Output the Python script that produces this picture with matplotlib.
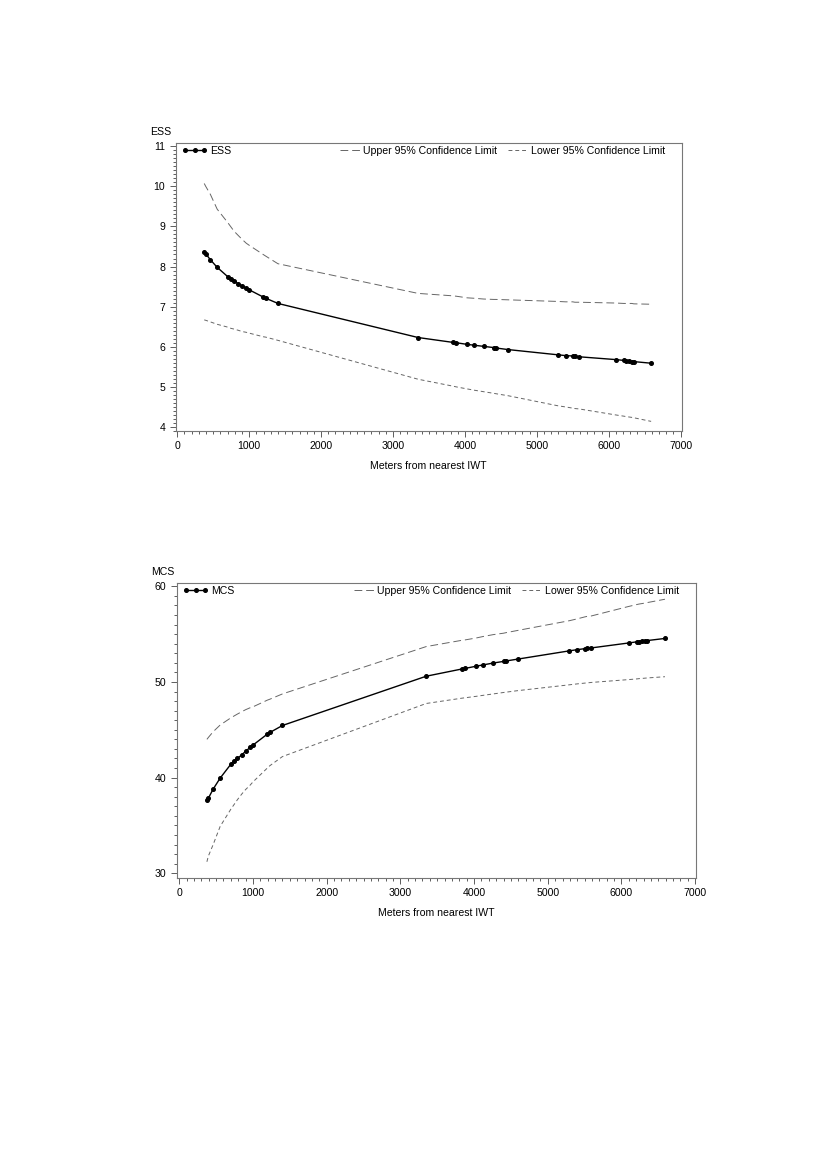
import matplotlib.pyplot as plt
from matplotlib.ticker import MultipleLocator

plt.rcParams['font.family'] = ['Liberation Sans', 'DejaVu Sans']

# distance to nearest IWT (m), shared by both panels
meters = [375, 395, 460, 555, 700, 745, 790, 850, 900, 960, 1000, 1195, 1230, 1400,
          3350, 3830, 3880, 4030, 4120, 4260, 4400, 4430, 4600, 5290, 5400, 5500,
          5530, 5590, 6100, 6210, 6240, 6280, 6320, 6350, 6590]

ess = [8.37, 8.32, 8.17, 7.98, 7.75, 7.70, 7.64, 7.57, 7.52, 7.46, 7.42, 7.24, 7.21, 7.08,
       6.23, 6.11, 6.10, 6.06, 6.04, 6.01, 5.98, 5.97, 5.93, 5.80, 5.78, 5.77,
       5.76, 5.75, 5.68, 5.66, 5.65, 5.64, 5.63, 5.63, 5.59]
ess_upper = [10.07, 10.0, 9.8, 9.43, 9.1, 8.99, 8.88, 8.77, 8.68, 8.58, 8.53, 8.3, 8.26, 8.07,
             7.33, 7.27, 7.26, 7.22, 7.21, 7.19, 7.18, 7.18, 7.17, 7.13, 7.12, 7.12,
             7.11, 7.11, 7.09, 7.08, 7.08, 7.08, 7.08, 7.07, 7.06]
ess_lower = [6.67, 6.66, 6.62, 6.56, 6.49, 6.46, 6.44, 6.41, 6.38, 6.36, 6.34, 6.25, 6.24, 6.16,
             5.19, 5.02, 5.00, 4.95, 4.92, 4.88, 4.84, 4.83, 4.78, 4.53, 4.50, 4.47,
             4.46, 4.45, 4.30, 4.27, 4.26, 4.25, 4.24, 4.23, 4.14]

mcs = [37.7, 37.85, 38.8, 39.95, 41.4, 41.75, 42.0, 42.4, 42.75, 43.15, 43.4, 44.55, 44.72, 45.45,
       50.6, 51.35, 51.42, 51.65, 51.78, 51.98, 52.15, 52.19, 52.4, 53.25, 53.38, 53.48,
       53.52, 53.56, 54.08, 54.2, 54.23, 54.27, 54.3, 54.33, 54.55]
mcs_upper = [44.0, 44.2, 44.8, 45.5, 46.25, 46.45, 46.65, 46.9, 47.1, 47.3, 47.4, 48.1, 48.2, 48.75,
             53.7, 54.35, 54.4, 54.6, 54.75, 54.95, 55.1, 55.15, 55.4, 56.4, 56.6, 56.8,
             56.85, 56.9, 57.9, 58.1, 58.15, 58.2, 58.25, 58.3, 58.65]
mcs_lower = [31.2, 31.8, 33.0, 34.9, 36.7, 37.2, 37.7, 38.3, 38.75, 39.2, 39.55, 41.0, 41.25, 42.2,
             47.75, 48.3, 48.35, 48.5, 48.6, 48.75, 48.9, 48.93, 49.1, 49.7, 49.8, 49.88,
             49.9, 49.95, 50.25, 50.32, 50.35, 50.37, 50.4, 50.42, 50.55]

fs = 7.6

fig = plt.figure(figsize=(8.26, 11.69), dpi=100)
ax1 = fig.add_axes([0.2127, 0.6313, 0.6126, 0.2464])
ax2 = fig.add_axes([0.2139, 0.2489, 0.6287, 0.2524])


def panel(ax, name, y, up, lo, xlim, ylim, ystep, yminor):
    ax.plot(meters, up, color='#666666', lw=0.7, dashes=(8, 4), label='Upper 95% Confidence Limit')
    ax.plot(meters, lo, color='#666666', lw=0.7, dashes=(4, 3), label='Lower 95% Confidence Limit')
    ax.plot(meters, y, color='black', lw=1.0, marker='o', ms=2.6, label=name)
    ax.set_xlim(*xlim)
    ax.set_ylim(*ylim)
    ax.xaxis.set_major_locator(MultipleLocator(1000))
    ax.xaxis.set_minor_locator(MultipleLocator(100))
    ax.yaxis.set_major_locator(MultipleLocator(ystep))
    ax.yaxis.set_minor_locator(MultipleLocator(yminor))
    ax.tick_params(which='both', direction='out', labelsize=fs, colors='#444444',
                   labelcolor='black', width=0.6)
    ax.tick_params(which='major', length=4)
    ax.tick_params(which='minor', length=2)
    for s in ax.spines.values():
        s.set_color('#777777')
        s.set_linewidth(0.8)
    ax.set_xlabel('Meters from nearest IWT', fontsize=fs, labelpad=7)
    ax.text(-0.05, 1.02, name, transform=ax.transAxes, fontsize=fs, ha='left', va='bottom')

    h, l = ax.get_legend_handles_labels()
    leg1 = ax.legend([h[2]], [l[2]], loc='upper left', bbox_to_anchor=(0.0, 1.012),
                     frameon=False, fontsize=fs, numpoints=3, handlelength=2.4,
                     handletextpad=0.3, borderaxespad=0.2)
    ax.add_artist(leg1)
    ax.legend(h[:2], l[:2], loc='upper right', bbox_to_anchor=(0.98, 1.012), ncol=2,
              frameon=False, fontsize=fs, handlelength=1.9, handletextpad=0.3,
              columnspacing=1.0, borderaxespad=0.2)


panel(ax1, 'ESS', ess, ess_upper, ess_lower, (-22, 7015), (3.9, 11.08), 1, 0.1)
panel(ax2, 'MCS', mcs, mcs_upper, mcs_lower, (-35, 7011), (29.5, 60.35), 10, 1)

fig.savefig('out.png', dpi=100)
